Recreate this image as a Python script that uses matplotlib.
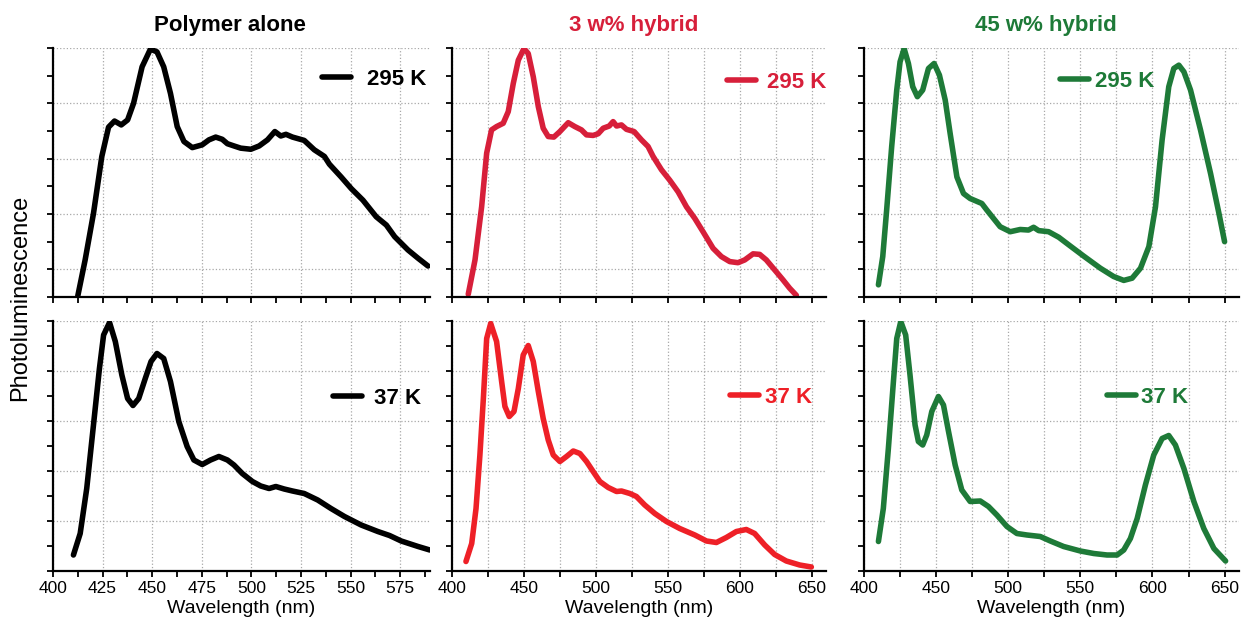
import matplotlib
matplotlib.use("Agg")
import matplotlib.pyplot as plt
from matplotlib.ticker import MultipleLocator, NullFormatter

plt.rcParams['font.family'] = ['Liberation Sans', 'DejaVu Sans']

# ---------------- data (wavelength nm, normalized PL in grid units) ----------------
pa295_x = [412.5, 416.2, 420.4, 424.6, 428.0, 431.0, 434.4, 437.6, 440.6, 444.9, 449.1, 452.4,
           455.8, 459.2, 462.6, 466.0, 470.2, 475.2, 478.6, 482.0, 485.3, 487.9, 491.2, 494.6,
           499.7, 503.9, 508.1, 511.8, 514.8, 517.4, 520.7, 526.6, 531.7, 536.8, 539.3, 545.2,
           550.3, 556.2, 562.9, 568.0, 572.2, 578.9, 584.0, 589.0]
pa295_y = [-0.48, 0.17, 1.01, 2.04, 2.57, 2.68, 2.61, 2.70, 3.00, 3.66, 3.98, 3.93,
           3.66, 3.18, 2.58, 2.31, 2.20, 2.25, 2.34, 2.39, 2.35, 2.27, 2.23, 2.19,
           2.17, 2.23, 2.34, 2.49, 2.41, 2.44, 2.39, 2.33, 2.16, 2.04, 1.90, 1.67,
           1.46, 1.25, 0.95, 0.80, 0.59, 0.35, 0.20, 0.06]

h3_295_x = [411.3, 416.0, 420.6, 424.1, 427.5, 431.0, 435.6, 439.1, 442.6, 446.1, 450.0, 453.0,
            456.5, 460.0, 463.4, 466.9, 470.8, 475.0, 480.8, 485.4, 490.0, 493.5, 498.1, 501.6,
            505.1, 509.3, 512.0, 514.4, 517.8, 521.3, 526.6, 531.7, 536.3, 539.8, 545.6, 551.4,
            557.2, 563.0, 568.8, 574.5, 581.5, 587.3, 593.1, 598.8, 603.5, 609.3, 613.9, 618.5,
            624.3, 630.1, 634.7, 639.4]
h3_295_y = [-0.45, 0.17, 1.13, 2.10, 2.52, 2.58, 2.64, 2.85, 3.36, 3.78, 3.99, 3.90,
            3.48, 2.94, 2.55, 2.40, 2.39, 2.49, 2.65, 2.58, 2.52, 2.43, 2.42, 2.45,
            2.55, 2.59, 2.67, 2.59, 2.61, 2.53, 2.49, 2.34, 2.22, 2.04, 1.80, 1.61,
            1.40, 1.13, 0.92, 0.68, 0.38, 0.23, 0.14, 0.12, 0.17, 0.28, 0.27, 0.17,
            -0.01, -0.19, -0.34, -0.47]

h45_295_x = [410.0, 413.0, 415.7, 419.2, 422.7, 425.0, 427.8, 430.8, 433.8, 437.0, 440.7, 444.7,
             448.6, 452.3, 456.3, 459.7, 464.4, 469.0, 473.6, 481.7, 485.2, 489.8, 494.4, 501.4,
             508.3, 514.1, 517.6, 521.1, 528.0, 535.0, 543.1, 552.3, 563.9, 573.1, 580.1, 585.9,
             591.7, 597.5, 602.1, 606.7, 611.3, 614.8, 618.3, 621.8, 626.4, 633.3, 640.3, 646.1,
             650.0]
h45_295_y = [-0.28, 0.23, 1.07, 2.22, 3.24, 3.75, 3.99, 3.72, 3.30, 3.12, 3.24, 3.63,
             3.72, 3.51, 3.06, 2.46, 1.67, 1.37, 1.28, 1.19, 1.07, 0.92, 0.77, 0.68,
             0.72, 0.71, 0.76, 0.70, 0.68, 0.58, 0.42, 0.24, 0.02, -0.13, -0.20, -0.16,
             0.02, 0.41, 1.13, 2.34, 3.30, 3.63, 3.69, 3.57, 3.24, 2.52, 1.73, 1.01,
             0.50]

pa37_x = [410.3, 413.7, 417.0, 420.4, 423.4, 425.5, 428.5, 431.4, 434.7, 437.6, 440.3, 443.2,
          446.5, 449.4, 452.4, 455.8, 459.2, 463.4, 467.6, 471.0, 475.2, 479.4, 483.6, 487.9,
          491.2, 495.4, 500.5, 504.7, 508.9, 512.3, 516.5, 520.7, 526.6, 533.4, 540.1, 546.9,
          555.3, 563.7, 569.6, 575.5, 584.0, 589.9]
pa37_y = [0.32, 0.75, 1.65, 2.92, 4.05, 4.72, 4.97, 4.59, 3.92, 3.45, 3.31, 3.45,
          3.85, 4.19, 4.35, 4.25, 3.79, 2.99, 2.49, 2.22, 2.13, 2.22, 2.29, 2.22,
          2.12, 1.95, 1.79, 1.70, 1.65, 1.69, 1.64, 1.60, 1.55, 1.42, 1.25, 1.09,
          0.92, 0.79, 0.71, 0.60, 0.49, 0.42]

h3_37_x = [409.7, 413.7, 416.7, 419.4, 421.8, 424.1, 426.9, 431.0, 434.5, 436.8, 439.8, 443.1,
           446.1, 449.5, 453.0, 456.5, 460.0, 463.4, 466.9, 470.4, 475.0, 479.6, 484.3, 488.9,
           493.5, 498.1, 502.8, 508.6, 514.4, 517.8, 523.6, 528.2, 534.0, 541.0, 549.1, 558.3,
           568.8, 576.9, 583.8, 590.7, 597.7, 604.6, 610.4, 617.4, 624.3, 632.4, 641.7, 649.8]
h3_37_y = [0.19, 0.55, 1.25, 2.32, 3.45, 4.65, 4.95, 4.59, 3.79, 3.29, 3.09, 3.19,
           3.65, 4.32, 4.51, 4.19, 3.59, 3.05, 2.62, 2.32, 2.19, 2.29, 2.40, 2.35,
           2.19, 1.99, 1.79, 1.67, 1.59, 1.60, 1.55, 1.49, 1.32, 1.15, 0.99, 0.85,
           0.72, 0.60, 0.57, 0.67, 0.79, 0.83, 0.75, 0.52, 0.33, 0.20, 0.12, 0.08]

h45_37_x = [410.0, 413.4, 416.9, 420.4, 422.7, 425.5, 428.9, 431.9, 435.4, 437.7, 440.7, 443.5,
            447.0, 451.6, 455.1, 458.6, 463.2, 467.8, 473.6, 480.6, 486.3, 492.1, 499.1, 506.0,
            513.0, 522.2, 529.2, 538.4, 550.0, 559.3, 568.5, 575.5, 580.1, 584.7, 589.4, 595.1,
            600.9, 606.7, 611.3, 615.9, 621.8, 628.7, 635.6, 642.6, 650.7]
h45_37_y = [0.59, 1.25, 2.45, 3.79, 4.65, 4.99, 4.72, 3.92, 2.92, 2.59, 2.52, 2.72,
            3.19, 3.49, 3.32, 2.79, 2.12, 1.62, 1.39, 1.40, 1.29, 1.12, 0.89, 0.75,
            0.72, 0.69, 0.60, 0.49, 0.40, 0.35, 0.32, 0.32, 0.42, 0.65, 1.05, 1.72,
            2.32, 2.65, 2.71, 2.52, 2.05, 1.39, 0.85, 0.45, 0.20]

titles = ["Polymer alone", "3 w% hybrid", "45 w% hybrid"]
labels_top = ["295 K", "295 K", "295 K"]
labels_bot = ["37 K", "37 K", "37 K"]

# ---------------- styling ----------------
BLACK = "#000000"
CRIMSON = "#D71F3A"
RED = "#EE2027"
GREEN = "#1E7A38"
GRID = "#a8a8a8"

fig = plt.figure(figsize=(12.44, 6.2), dpi=100)
W, H = 1244.0, 620.0

def make_ax(x0, x1, y0, y1):
    return fig.add_axes([x0 / W, 1 - y1 / H, (x1 - x0) / W, (y1 - y0) / H])

cols = [(53, 430), (452, 826), (864, 1239)]
rows = [(48, 297), (321, 571)]

series = [
    [(pa295_x, pa295_y, BLACK), (h3_295_x, h3_295_y, CRIMSON), (h45_295_x, h45_295_y, GREEN)],
    [(pa37_x, pa37_y, BLACK), (h3_37_x, h3_37_y, RED), (h45_37_x, h45_37_y, GREEN)],
]
legend_pos = [
    [(0.713, 0.874, 0.72), (0.735, 0.861, 0.50), (0.523, 0.865, 0.25)],
    [(0.743, 0.692, 0.52), (0.743, 0.696, 0.30), (0.648, 0.696, 0.25)],
]
labels = [labels_top, labels_bot]

for r, (ry0, ry1) in enumerate(rows):
    for c, (cx0, cx1) in enumerate(cols):
        ax = make_ax(cx0, cx1, ry0, ry1)
        xs, ys, col = series[r][c]
        ax.plot(xs, ys, color=col, lw=4.0, solid_capstyle='round', solid_joinstyle='round',
                label=labels[r][c])
        if c == 0:
            ax.set_xlim(400, 590)
            ax.xaxis.set_major_locator(MultipleLocator(25))
            ax.xaxis.set_minor_locator(MultipleLocator(12.5))
            ax.grid(True, which='major', axis='x', color=GRID, ls=':', lw=0.9)
        else:
            ax.set_xlim(400, 660)
            ax.xaxis.set_major_locator(MultipleLocator(50))
            ax.xaxis.set_minor_locator(MultipleLocator(25))
            ax.grid(True, which='both', axis='x', color=GRID, ls=':', lw=0.9)
        if r == 0:
            ax.set_ylim(-0.5, 4.0)
        else:
            ax.set_ylim(0, 5.0)
        ax.yaxis.set_major_locator(MultipleLocator(1))
        ax.yaxis.set_minor_locator(MultipleLocator(0.5))
        ax.grid(True, which='major', axis='y', color=GRID, ls=':', lw=0.9)
        ax.set_axisbelow(True)
        ax.yaxis.set_major_formatter(NullFormatter())
        for s in ['top', 'right']:
            ax.spines[s].set_visible(False)
        for s in ['left', 'bottom']:
            ax.spines[s].set_linewidth(1.6)
        ax.tick_params(which='both', direction='out', length=4, width=1.3, labelsize=12.5, pad=3)
        if r == 0:
            ax.xaxis.set_major_formatter(NullFormatter())
            ax.set_title(titles[c], fontsize=16, fontweight='bold',
                         color=[BLACK, CRIMSON, GREEN][c], pad=12, x=0.47 if c == 0 else 0.485)
        else:
            ax.set_xlabel("Wavelength (nm)", fontsize=14, labelpad=3)
        lx, ly, tp = legend_pos[r][c]
        ax.legend(loc='center left', bbox_to_anchor=(lx, ly), frameon=False,
                  handlelength=1.3, handletextpad=tp, borderpad=0, borderaxespad=0,
                  prop={'size': 16, 'weight': 'bold'}, labelcolor='linecolor')

fig.text(20 / W, 1 - 298 / H, "Photoluminescence", rotation=90, fontsize=17,
         ha='center', va='center')

fig.savefig("out.png", dpi=100)
